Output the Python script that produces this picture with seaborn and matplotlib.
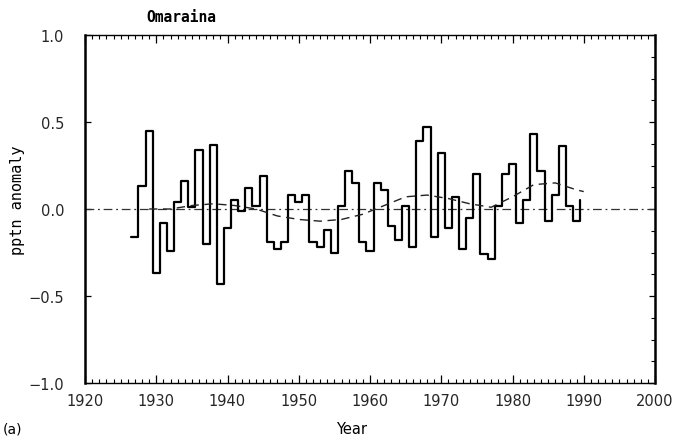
import numpy as np
import pandas as pd
import matplotlib
matplotlib.use("Agg")
import matplotlib.pyplot as plt
from matplotlib.ticker import MultipleLocator
import seaborn as sns

# ---- data ----
years = list(range(1927, 1991))
anomaly = [-0.16, 0.13, 0.45, -0.37, -0.08, -0.24, 0.04, 0.16, 0.01, 0.34,
           -0.20, 0.37, -0.43, -0.11, 0.05, -0.01, 0.12, 0.02, 0.19, -0.19,
           -0.23, -0.19, 0.08, 0.04, 0.08, -0.19, -0.22, -0.12, -0.25, 0.02,
           0.22, 0.15, -0.19, -0.24, 0.15, 0.11, -0.10, -0.18, 0.02, -0.22,
           0.39, 0.47, -0.16, 0.32, -0.11, 0.07, -0.23, -0.05, 0.20, -0.26,
           -0.29, 0.02, 0.20, 0.26, -0.08, 0.05, 0.43, 0.22, -0.07, 0.08,
           0.36, 0.02, -0.07, 0.05]

smooth_years = [1929, 1932, 1935, 1938, 1941, 1944, 1947, 1950, 1953, 1956,
                1959, 1962, 1965, 1968, 1971, 1974, 1977, 1980, 1983, 1986,
                1989, 1990]
smooth_vals = [0.00, 0.00, 0.02, 0.03, 0.02, 0.00, -0.04, -0.06, -0.07, -0.06,
               -0.03, 0.02, 0.07, 0.08, 0.06, 0.03, 0.01, 0.07, 0.14, 0.15,
               0.11, 0.10]

x_ticks = [1920, 1930, 1940, 1950, 1960, 1970, 1980, 1990, 2000]
y_ticks = [-1.0, -0.5, 0.0, 0.5, 1.0]
y_ticklabels = ["\u22121.0", "\u22120.5", "0.0", "0.5", "1.0"]

sns.set_theme(style="ticks")
plt.rcParams["font.family"] = ["Liberation Sans Narrow", "DejaVu Sans"]

W, H = 685, 439
fig = plt.figure(figsize=(W / 100, H / 100), dpi=100)
fig.patch.set_facecolor("white")
ax = fig.add_axes([85 / W, 1 - 384 / H, (655 - 85) / W, (384 - 36) / H])
ax.set_facecolor("white")

df = pd.DataFrame({"year": np.array(years) - 0.5, "anomaly": anomaly})
sns.lineplot(data=df, x="year", y="anomaly", drawstyle="steps-post",
             color="black", lw=1.6, ax=ax)

ax.axhline(0, color="#333333", lw=0.9, ls=(0, (7, 3, 1.5, 3)), zorder=1)

sm = pd.DataFrame({"year": smooth_years, "value": smooth_vals})
sns.lineplot(data=sm, x="year", y="value", color="#222222", lw=1.0,
             ls=(0, (6, 4)), ax=ax)

ax.set_xlim(1920, 2000)
ax.set_ylim(-1.0, 1.0)
ax.set_xticks(x_ticks)
ax.set_xticklabels([str(t) for t in x_ticks])
ax.set_yticks(y_ticks)
ax.set_yticklabels(y_ticklabels)
ax.xaxis.set_minor_locator(MultipleLocator(1))
ax.yaxis.set_minor_locator(MultipleLocator(0.125))
ax.tick_params(axis="x", which="major", direction="in", top=True, bottom=True,
               length=6, width=0.9, pad=7, labelsize=10.5, color="black")
ax.tick_params(axis="x", which="minor", direction="in", top=True, bottom=True,
               length=3, width=0.8, color="black")
ax.tick_params(axis="y", which="major", direction="in", left=True, right=True,
               length=4, width=0.9, pad=15, labelsize=10.5, color="black")
ax.tick_params(axis="y", which="minor", direction="in", left=False, right=True,
               length=3, width=0.8, color="black")
for side in ["left", "right"]:
    ax.spines[side].set_linewidth(1.8)
    ax.spines[side].set_color("black")
for side in ["top", "bottom"]:
    ax.spines[side].set_linewidth(1.0)
    ax.spines[side].set_color("black")

ax.set_xlabel("")
ax.set_ylabel("")
fig.text(352 / W, 1 - 430 / H, "Year", ha="center", va="center", fontsize=10.5,
         color="black")
fig.text(18 / W, 1 - 200 / H, "pptn anomaly", ha="center", va="center",
         rotation=90, fontsize=11, color="black",
         family=["DejaVu Sans Mono", "DejaVu Sans"])
fig.text(181 / W, 1 - 17 / H, "Omaraina", ha="center", va="center",
         fontsize=10.5, fontweight="bold", color="black",
         family=["DejaVu Sans Mono", "DejaVu Sans"])
fig.text(3 / W, 1 - 430 / H, "(a)", ha="left", va="center", fontsize=10,
         color="black")

fig.savefig("out.png", dpi=100, facecolor="white")
